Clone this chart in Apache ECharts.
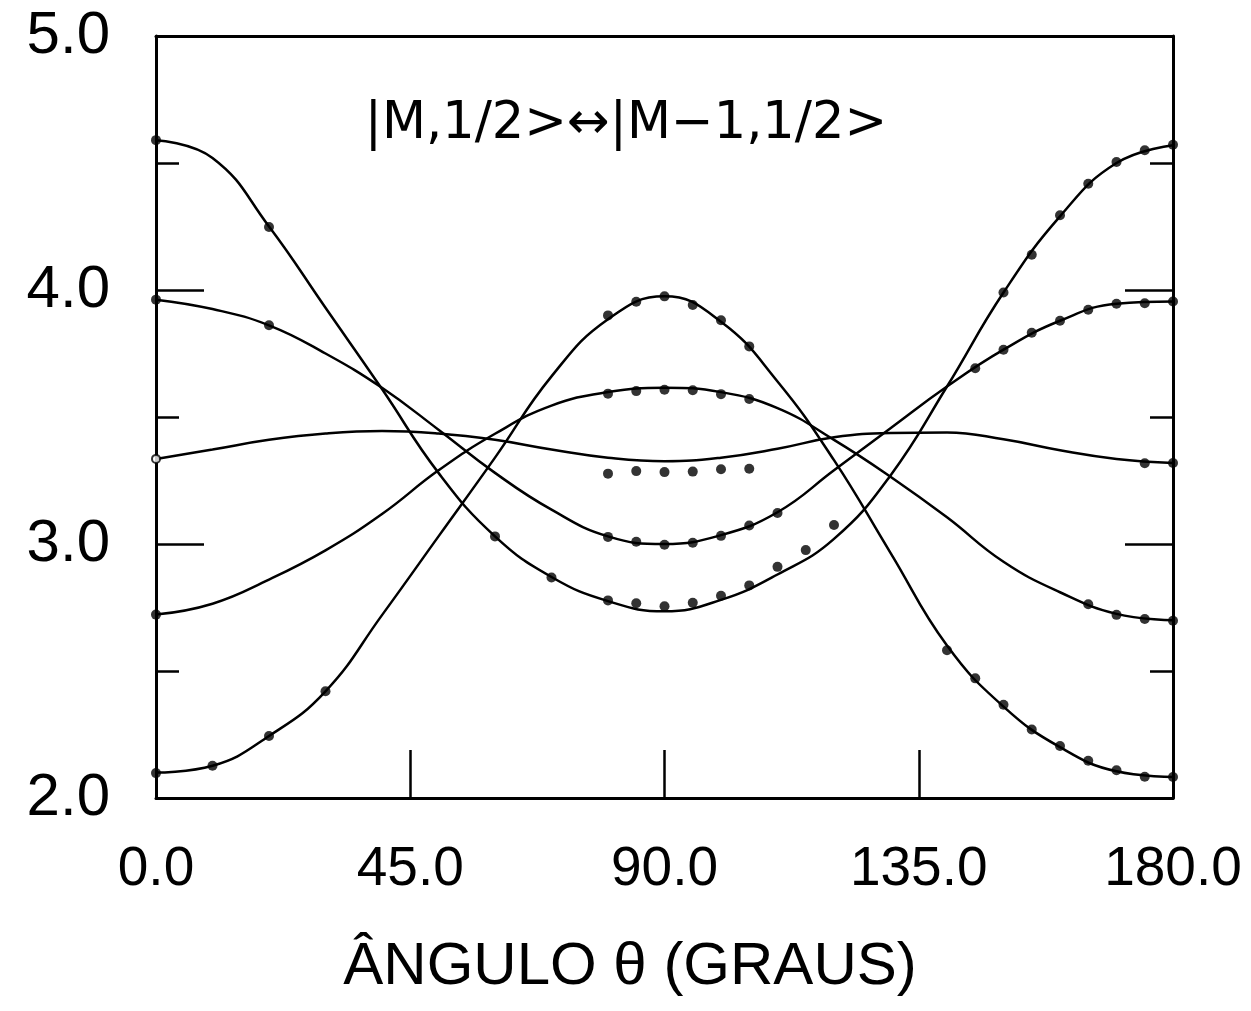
<!DOCTYPE html>
<html>
<head>
<meta charset="utf-8">
<script src="https://cdn.jsdelivr.net/npm/echarts/dist/echarts.min.js"></script>
<style>
html,body{margin:0;padding:0;background:#fff;}
#chart{width:1251px;height:1011px;}
</style>
</head>
<body>
<div id="chart"></div>
<script>
// ---- data ----
const angles = [0,10,20,30,40,50,60,70,80,90,100,110,120,130,140,150,160,170,180];

// fitted curves (energy vs angle)
const curveA = [4.59,4.52,4.25,3.93,3.61,3.28,3.03,2.87,2.775,2.735,2.78,2.88,3.02,3.27,3.62,3.99,4.29,4.50,4.57];
const curveC = [3.962,3.925,3.861,3.75,3.615,3.45,3.28,3.135,3.03,3.0,3.035,3.125,3.29,3.456,3.62,3.765,3.879,3.946,3.955];
const curveF = [3.335,3.372,3.41,3.435,3.445,3.435,3.41,3.372,3.34,3.326,3.34,3.375,3.42,3.437,3.439,3.412,3.369,3.335,3.319];
const curveE = [2.722,2.765,2.86,2.975,3.118,3.29,3.434,3.545,3.598,3.615,3.598,3.535,3.41,3.265,3.105,2.93,2.81,2.725,2.70];
const curveD = [2.10,2.127,2.244,2.42,2.72,3.03,3.34,3.66,3.885,3.975,3.875,3.64,3.33,2.965,2.60,2.36,2.20,2.105,2.083];

// measured points [angle, value]
const dotsA = [[0,4.59],[20,4.248],[60,3.03],[70,2.868],[80,2.778],[85,2.767],[90,2.755],[95,2.769],[100,2.796],[105,2.837],[110,2.91],[115,2.976],[120,3.075],[150,3.99],[155,4.139],[160,4.294],[165,4.418],[170,4.504],[175,4.55],[180,4.572]];
const dotsC = [[0,3.962],[20,3.861],[80,3.028],[85,3.009],[90,2.997],[95,3.005],[100,3.032],[105,3.073],[110,3.122],[145,3.692],[150,3.765],[155,3.832],[160,3.879],[165,3.922],[170,3.946],[175,3.948],[180,3.955]];
const dotsF = [[80,3.277],[85,3.287],[90,3.283],[95,3.285],[100,3.294],[105,3.296],[175,3.318],[180,3.319]];
const dotsE = [[0,2.722],[80,3.592],[85,3.602],[90,3.607],[95,3.605],[100,3.590],[105,3.571],[165,2.763],[170,2.721],[175,2.705],[180,2.698]];
const dotsD = [[0,2.098],[10,2.127],[20,2.244],[30,2.42],[80,3.90],[85,3.954],[90,3.975],[95,3.941],[100,3.881],[105,3.778],[140,2.582],[145,2.471],[150,2.367],[155,2.270],[160,2.205],[165,2.147],[170,2.109],[175,2.084],[180,2.083]];
const openMarks = [[0,3.335]];

// tick labels
const xTickValues = [0,45,90,135,180];
const xTickLabels = ['0.0','45.0','90.0','135.0','180.0'];
const yTickValues = [2,3,4,5];
const yTickLabels = ['2.0','3.0','4.0','5.0'];

const titleText = '|M,1/2>\u2194|M\u22121,1/2>';
const xAxisTitle = '\u00C2NGULO \u03B8 (GRAUS)';

// ---- chart ----
const chart = echarts.init(document.getElementById('chart'), null, {renderer:'canvas'});
const black = '#000';
const lblFont = 'Liberation Sans';

function fmt(vals, labels){
  return function(v){
    const i = vals.findIndex(t => Math.abs(t - v) < 1e-6);
    return i >= 0 ? labels[i] : '';
  };
}

const curves = [curveA, curveC, curveF, curveE, curveD];
const dots = [dotsA, dotsC, dotsF, dotsE, dotsD];

const series = [];
curves.forEach(function(c){
  series.push({
    type:'line', smooth:0.45, symbol:'none', silent:true,
    data: angles.map(function(a,i){ return [a, c[i]]; }),
    lineStyle:{color:black, width:2.5},
    z:2
  });
});
dots.forEach(function(d){
  series.push({
    type:'scatter', symbol:'circle', symbolSize:10, silent:true,
    data:d, itemStyle:{color:black}, z:3
  });
});
series.push({
  type:'scatter', symbol:'circle', symbolSize:8, silent:true,
  data:openMarks, itemStyle:{color:'#fff', borderColor:black, borderWidth:2}, z:4
});

const option = {
  backgroundColor:'#fff',
  animation:false,
  grid:{left:156, right:78, top:36, bottom:213, containLabel:false, outerBoundsMode:'none', show:false},
  xAxis:[{
    type:'value', min:0, max:180, interval:45, position:'bottom',
    axisLine:{show:true, onZero:false, lineStyle:{color:black, width:3}},
    axisTick:{show:true, inside:true, length:48, lineStyle:{color:black, width:2.5}},
    minorTick:{show:false},
    splitLine:{show:false},
    axisLabel:{show:true, margin:44, color:black, fontSize:55, fontFamily:lblFont,
      showMinLabel:true, showMaxLabel:true, formatter: fmt(xTickValues, xTickLabels)}
  },{
    type:'value', min:0, max:180, interval:45, position:'top',
    axisLine:{show:true, onZero:false, lineStyle:{color:black, width:3}},
    axisTick:{show:false}, axisLabel:{show:false}, splitLine:{show:false}
  }],
  yAxis:[{
    type:'value', min:2, max:5, interval:1, position:'left',
    axisLine:{show:true, onZero:false, lineStyle:{color:black, width:3}},
    axisTick:{show:true, inside:true, length:48, lineStyle:{color:black, width:2.5}},
    minorTick:{show:true, splitNumber:2, length:23, lineStyle:{color:black, width:2.5}},
    splitLine:{show:false}, minorSplitLine:{show:false},
    axisLabel:{show:true, margin:46, color:black, fontSize:60, fontFamily:lblFont,
      showMinLabel:true, showMaxLabel:true, formatter: fmt(yTickValues, yTickLabels)}
  },{
    type:'value', min:2, max:5, interval:1, position:'right',
    axisLine:{show:true, onZero:false, lineStyle:{color:black, width:3}},
    axisTick:{show:true, inside:true, length:48, lineStyle:{color:black, width:2.5}},
    minorTick:{show:true, splitNumber:2, length:23, lineStyle:{color:black, width:2.5}},
    splitLine:{show:false}, minorSplitLine:{show:false},
    axisLabel:{show:false}
  }],
  graphic:[{
    type:'text', x:626, y:125, silent:true,
    style:{text:titleText, fill:black, font:'51px "DejaVu Sans"', align:'center', verticalAlign:'middle', textAlign:'center', textVerticalAlign:'middle'}
  },{
    type:'text', x:630, y:967, silent:true,
    style:{text:xAxisTitle, fill:black, font:'60px "Liberation Sans"', align:'center', verticalAlign:'middle', textAlign:'center', textVerticalAlign:'middle'}
  }],
  series: series
};
chart.setOption(option);
</script>
</body>
</html>
